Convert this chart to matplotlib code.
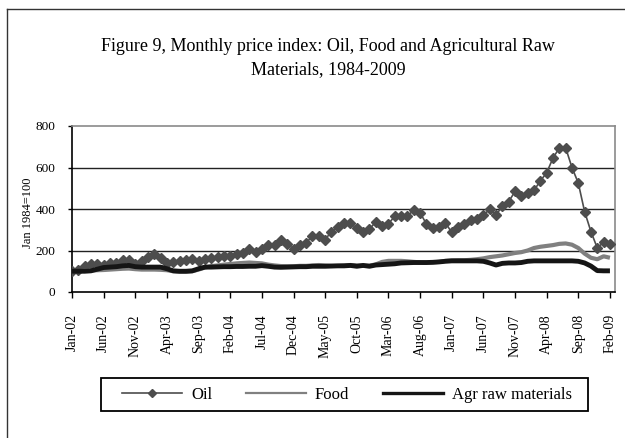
import matplotlib
matplotlib.use("Agg")
import matplotlib.pyplot as plt
import numpy as np
from matplotlib.lines import Line2D

plt.rcParams['font.family'] = ['Liberation Serif', 'DejaVu Serif']

title = "Figure 9, Monthly price index: Oil, Food and Agricultural Raw\nMaterials, 1984-2009"
y_label = "Jan 1984=100"
series_names = ["Oil", "Food", "Agr raw materials"]

# Monthly values Jan-02 ... Feb-09 (86 months)
oil = [100, 104, 124, 135, 137, 128, 140, 142, 155, 152, 135, 150,
       168, 182, 165, 140, 146, 150, 156, 158, 150, 160, 162, 168,
       172, 175, 185, 190, 205, 195, 205, 225, 228, 253, 232, 208,
       228, 237, 270, 270, 253, 291, 315, 334, 331, 307, 291, 302,
       339, 318, 328, 366, 366, 366, 395, 382, 328, 307, 315, 334,
       287, 315, 328, 347, 352, 371, 398, 371, 414, 435, 485, 465,
       475, 490, 535, 575, 645, 695, 695, 600, 525, 387, 291, 212,
       240, 230]
food = [100, 100, 102, 104, 105, 106, 108, 110, 112, 113, 110, 108,
        108, 108, 107, 105, 100, 98, 98, 100, 108, 118, 125, 128,
        132, 135, 138, 140, 142, 140, 138, 132, 128, 125, 124, 124,
        126, 126, 128, 130, 128, 126, 126, 128, 130, 128, 127, 127,
        133, 145, 150, 150, 150, 148, 145, 143, 142, 143, 145, 150,
        152, 153, 153, 155, 158, 162, 168, 172, 176, 182, 188, 192,
        200, 212, 218, 222, 226, 232, 234, 228, 212, 185, 165, 158,
        172, 165]
agr = [100, 100, 100, 102, 110, 118, 120, 122, 126, 128, 122, 120,
       120, 120, 120, 112, 102, 100, 100, 102, 112, 120, 120, 121,
       122, 122, 123, 123, 124, 124, 127, 124, 120, 119, 120, 121,
       122, 122, 124, 124, 124, 125, 126, 126, 128, 124, 128, 124,
       130, 132, 134, 136, 140, 141, 142, 142, 142, 143, 145, 148,
       150, 150, 150, 150, 150, 148, 140, 130, 138, 140, 140, 142,
       148, 150, 150, 150, 150, 150, 150, 150, 148, 140, 125, 103,
       102, 102]
tick_labels = ["Jan-02", "Jun-02", "Nov-02", "Apr-03", "Sep-03", "Feb-04",
               "Jul-04", "Dec-04", "May-05", "Oct-05", "Mar-06", "Aug-06",
               "Jan-07", "Jun-07", "Nov-07", "Apr-08", "Sep-08", "Feb-09"]
y_ticks = [0, 200, 400, 600, 800]

W, H = 625, 438
fig = plt.figure(figsize=(W / 100, H / 100), dpi=100)
fig.patch.set_facecolor('white')

# outer frame (top and left edges visible)
fig.add_artist(Line2D([7 / W, 1.0], [1 - 9 / H, 1 - 9 / H], transform=fig.transFigure,
                      color='#333333', lw=1.0))
fig.add_artist(Line2D([7 / W, 7 / W], [0, 1 - 9 / H], transform=fig.transFigure,
                      color='#333333', lw=1.0))

left, right = 72 / W, 615 / W
bottom, top = 1 - 292 / H, 1 - 126 / H
ax = fig.add_axes([left, bottom, right - left, top - bottom])

oil_c, food_c, agr_c = '#4d4d4d', '#808080', '#151515'
x = np.arange(len(oil))
ax.plot(x, oil, color=oil_c, lw=1.2, marker='D', ms=5.2, mec=oil_c,
        mfc=oil_c, zorder=3)
ax.plot(x, food, color=food_c, lw=3.0, zorder=4, solid_capstyle='butt')
ax.plot(x, agr, color=agr_c, lw=3.5, zorder=5, solid_capstyle='butt')

ax.set_xlim(0, 85.8)
ax.set_ylim(0, 800)
ax.set_yticks(y_ticks)
ax.set_yticklabels([str(v) for v in y_ticks], fontsize=9.5)
tick_pos = np.arange(0, len(oil), 5)
ax.set_xticks(tick_pos)
ax.set_xticklabels(tick_labels, rotation=90, fontsize=10)
ax.tick_params(axis='x', direction='out', length=4, width=1, pad=12, colors='black')
ax.tick_params(axis='y', direction='out', length=3, width=1, pad=9, colors='black')

for v in [200, 400, 600]:
    ax.axhline(v, color='#222222', lw=1.0, zorder=1)

for s in ['left', 'bottom']:
    ax.spines[s].set_color('black')
    ax.spines[s].set_linewidth(1.2)
for s in ['top', 'right']:
    ax.spines[s].set_color('#8a8a8a')
    ax.spines[s].set_linewidth(1.2)

fig.text(328 / W, 1 - 58 / H, title, ha='center', va='center', fontsize=13,
         linespacing=1.45)
fig.text(28 / W, 1 - 213 / H, y_label, rotation=90, ha='center', va='center', fontsize=9)

# legend
handles = [Line2D([], [], color=oil_c, lw=1.2, marker='D', ms=4.5, mfc=oil_c, mec=oil_c),
           Line2D([], [], color=food_c, lw=1.6),
           Line2D([], [], color=agr_c, lw=2.4)]
leg = fig.legend(handles, series_names, loc='center',
                 bbox_to_anchor=(347 / W, 1 - 395 / H), ncol=3,
                 frameon=False, fontsize=12, handlelength=3.6, handletextpad=0.55,
                 columnspacing=2.0, numpoints=1)
fig.add_artist(plt.Rectangle((101 / W, 1 - 411 / H), 487 / W, 33 / H,
                             transform=fig.transFigure, fill=False,
                             edgecolor='black', lw=1.3))

fig.savefig('out.png', dpi=100)
